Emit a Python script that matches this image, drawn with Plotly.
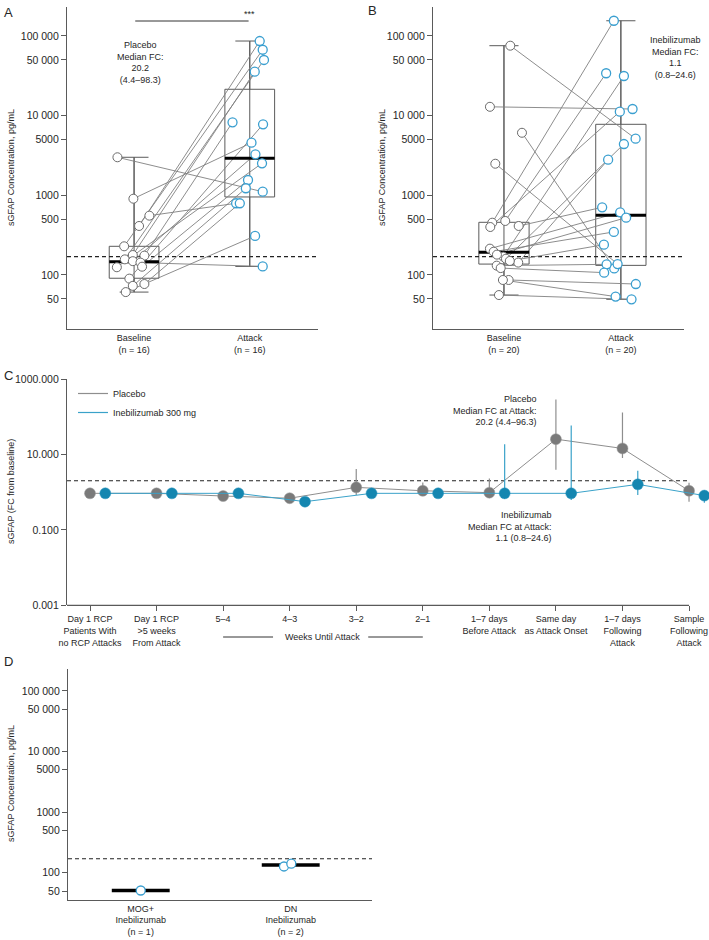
import plotly.graph_objects as go

W, H = 709, 940
FONT = "Liberation Sans, Arial, Helvetica, sans-serif"
TXT = "#262626"
AX = "#5a5a5a"
LINE_GRAY = "#808080"
PT_GRAY_EDGE = "#6b6b6b"
PT_BLUE_EDGE = "#3a9fd0"
C_GRAY = "#7a7a7a"
C_GRAY_LINE = "#8e8e8e"
C_BLUE = "#1486b0"
C_BLUE_LINE = "#3aa2c9"

# ---------------- data: panel A (placebo) ----------------
a_categories = ["Baseline<br>(n = 16)", "Attack<br>(n = 16)"]
a_baseline = [3000, 906, 555, 412, 229, 157, 178, 175, 149, 143, 125, 127, 90, 73, 77, 61]
a_attack = [1109, 4570, 794, 86300, 67100, 49900, 35600, 8240, 3270, 128, 2520, 1556, 7780, 1225, 794, 309]
a_baseline_jitter = [-0.144, -0.006, 0.132, 0.043, -0.086, -0.080, -0.011, 0.089, -0.011, 0.055,
                     -0.149, 0.069, -0.041, -0.011, 0.089, -0.072]
a_attack_jitter = [0.112, 0.015, -0.118, 0.086, 0.112, 0.123, 0.043, -0.149, 0.049, 0.112,
                   0.106, -0.015, 0.115, -0.034, -0.086, 0.046]
a_q1 = [91, 953]
a_median = [147, 2910]
a_q3 = [229, 21400]
a_min = [61, 128]
a_max = [3000, 86300]
a_note = "Placebo<br>Median FC:<br>20.2<br>(4.4–98.3)"

# ---------------- data: panel B (inebilizumab) ----------------
b_categories = ["Baseline<br>(n = 20)", "Attack<br>(n = 20)"]
b_baseline = [75400, 12900, 6090, 2490, 476, 453, 400, 412, 214, 196, 170, 160, 143, 131, 122,
              86.5, 86.5, 56, 180, 150]
b_attack = [5130, 12100, 121, 137, 34000, 155000, 11200, 706, 612, 347, 31400, 4400, 2800, 136,
            107, 77, 53.5, 49.5, 524, 240]
b_baseline_jitter = [0.054, -0.120, 0.154, -0.074, 0.011, -0.100, -0.117, 0.126, -0.120, -0.088,
                     -0.006, 0.017, 0.122, -0.062, -0.028, 0.040, -0.009, -0.043, -0.060, 0.050]
b_attack_jitter = [0.126, 0.100, -0.057, -0.028, -0.126, -0.060, -0.009, -0.160, -0.006, -0.060,
                   0.026, 0.026, -0.109, -0.122, -0.143, 0.128, -0.045, 0.091, 0.045, -0.145]
b_q1 = [137, 132]
b_median = [193, 561]
b_q3 = [458, 7780]
b_min = [56, 49.5]
b_max = [75400, 155000]
b_note = "Inebilizumab<br>Median FC:<br>1.1<br>(0.8–24.6)"

sgfap_cutoff = 170
conc_tickvals = [50, 100, 500, 1000, 5000, 10000, 50000, 100000]
conc_ticktext = ["50", "100", "500", "1000", "5000", "10 000", "50 000", "100 000"]

# ---------------- data: panel C (fold change) ----------------
c_categories = ["Day 1 RCP<br>Patients With<br>no RCP Attacks", "Day 1 RCP<br>>5 weeks<br>From Attack",
                "5–4", "4–3", "3–2", "2–1", "1–7 days<br>Before Attack", "Same day<br>as Attack Onset",
                "1–7 days<br>Following<br>Attack", "Sample<br>Following<br>Attack"]
c_placebo = [0.93, 0.93, 0.79, 0.69, 1.34, 1.09, 0.97, 25.4, 14.4, 1.09]
c_placebo_hi = [1.05, 1.05, 0.90, 0.80, 4.1, 1.8, 2.3, 288, 129, 1.78]
c_placebo_lo = [0.85, 0.85, 0.72, 0.60, 0.84, 0.90, 0.80, 3.9, 8.1, 0.56]
c_ineb = [0.93, 0.93, 0.93, 0.56, 0.93, 0.93, 0.93, 0.93, 1.61, 0.81]
c_ineb_hi = [1.0, 1.0, 1.0, 0.72, 1.1, 1.0, 18.7, 58.4, 3.7, 0.90]
c_ineb_lo = [0.85, 0.85, 0.85, 0.42, 0.80, 0.85, 0.66, 0.62, 0.84, 0.52]
fc_cutoff = 2.0
fc_tickvals = [0.001, 0.1, 10, 1000]
fc_ticktext = ["0.001", "0.100", "10.000", "1000.000"]
c_note_placebo = "Placebo<br>Median FC at Attack:<br>20.2 (4.4–96.3)"
c_note_ineb = "Inebilizumab<br>Median FC at Attack:<br>1.1 (0.8–24.6)"

# ---------------- data: panel D ----------------
d_categories = ["MOG+<br>Inebilizumab<br>(n = 1)", "DN<br>Inebilizumab<br>(n = 2)"]
d_mog = [51]
d_dn = [127, 141]
d_mog_jitter = [0.0]
d_dn_jitter = [-0.045, 0.004]
d_median = [51, 134]


def px(p):
    return p / W


def py(p):
    return 1 - p / H


fig = go.Figure()


def paired_panel(xa, ya, base, base_j, att, att_j, q1, med, q3, lo, hi, xr):
    kw = dict(xaxis=xa, yaxis=ya, showlegend=False, hoverinfo="skip")
    fig.add_trace(go.Scatter(x=list(xr), y=[sgfap_cutoff, sgfap_cutoff], mode="lines",
                             line=dict(color="#222", width=1.1, dash="4px,3px"), **kw))
    wx, wy = [], []
    for i in range(2):
        wx += [i, i, None]
        wy += [lo[i], hi[i], None]
    fig.add_trace(go.Scatter(x=wx, y=wy, mode="lines", line=dict(color=AX, width=1), **kw))
    fig.add_trace(go.Box(x=[0, 1], q1=q1, median=med, q3=q3, lowerfence=lo, upperfence=hi,
                         width=0.43, whiskerwidth=0.58, line=dict(color=AX, width=1),
                         fillcolor="rgba(0,0,0,0)", boxpoints=False, **kw))
    lx, ly = [], []
    for b, bj, a, aj in zip(base, base_j, att, att_j):
        lx += [0 + bj, 1 + aj, None]
        ly += [b, a, None]
    fig.add_trace(go.Scatter(x=lx, y=ly, mode="lines", line=dict(color=LINE_GRAY, width=0.9), **kw))
    mx, my = [], []
    for i in range(2):
        mx += [i - 0.215, i + 0.215, None]
        my += [med[i], med[i], None]
    fig.add_trace(go.Scatter(x=mx, y=my, mode="lines", line=dict(color="#000", width=3), **kw))
    fig.add_trace(go.Scatter(x=[0 + j for j in base_j], y=base, mode="markers",
                             marker=dict(size=9, color="white", line=dict(color=PT_GRAY_EDGE, width=1)),
                             cliponaxis=False, **kw))
    fig.add_trace(go.Scatter(x=[1 + j for j in att_j], y=att, mode="markers",
                             marker=dict(size=9, color="white", line=dict(color=PT_BLUE_EDGE, width=1.3)),
                             cliponaxis=False, **kw))


A_XR = (-0.58, 1.59)
B_XR = (-0.607, 1.54)
paired_panel("x", "y", a_baseline, a_baseline_jitter, a_attack, a_attack_jitter,
             a_q1, a_median, a_q3, a_min, a_max, A_XR)
paired_panel("x2", "y2", b_baseline, b_baseline_jitter, b_attack, b_attack_jitter,
             b_q1, b_median, b_q3, b_min, b_max, B_XR)

# ---------------- panel C ----------------
C_XR = (-0.3456, 9.30)
ckw = dict(xaxis="x3", yaxis="y3", hoverinfo="skip")
fig.add_trace(go.Scatter(x=[C_XR[0], 9.0], y=[fc_cutoff, fc_cutoff], mode="lines",
                         line=dict(color="#222", width=1.1, dash="4px,3px"), showlegend=False, **ckw))
n = len(c_categories)
fig.add_trace(go.Scatter(
    x=[i for i in range(n)], y=c_placebo, mode="lines+markers",
    line=dict(color=C_GRAY_LINE, width=1),
    marker=dict(size=11, color=C_GRAY, line=dict(color="#9a9a9a", width=0.5)),
    error_y=dict(type="data", symmetric=False,
                 array=[h - v for h, v in zip(c_placebo_hi, c_placebo)],
                 arrayminus=[v - l for l, v in zip(c_placebo_lo, c_placebo)],
                 color=C_GRAY_LINE, thickness=1.2, width=0),
    cliponaxis=False, showlegend=False, **ckw))
fig.add_trace(go.Scatter(
    x=[i + 0.23 for i in range(n)], y=c_ineb, mode="lines+markers",
    line=dict(color=C_BLUE_LINE, width=1),
    marker=dict(size=11, color=C_BLUE, line=dict(color="#2a95bd", width=0.5)),
    error_y=dict(type="data", symmetric=False,
                 array=[h - v for h, v in zip(c_ineb_hi, c_ineb)],
                 arrayminus=[v - l for l, v in zip(c_ineb_lo, c_ineb)],
                 color=C_BLUE_LINE, thickness=1.2, width=0),
    cliponaxis=False, showlegend=False, **ckw))
fig.add_trace(go.Scatter(x=[None], y=[None], mode="lines", name="Placebo",
                         line=dict(color=C_GRAY_LINE, width=1.2), **ckw))
fig.add_trace(go.Scatter(x=[None], y=[None], mode="lines", name="Inebilizumab 300 mg",
                         line=dict(color=C_BLUE_LINE, width=1.2), **ckw))

# ---------------- panel D ----------------
D_XR = (-0.485, 1.542)
dkw = dict(xaxis="x4", yaxis="y4", showlegend=False, hoverinfo="skip")
fig.add_trace(go.Scatter(x=list(D_XR), y=[sgfap_cutoff, sgfap_cutoff], mode="lines",
                         line=dict(color="#222", width=1.1, dash="4px,3px"), **dkw))
mx, my = [], []
for i, m in enumerate(d_median):
    mx += [i - 0.193, i + 0.193, None]
    my += [m, m, None]
fig.add_trace(go.Scatter(x=mx, y=my, mode="lines", line=dict(color="#000", width=3.5), **dkw))
fig.add_trace(go.Scatter(x=[0 + j for j in d_mog_jitter] + [1 + j for j in d_dn_jitter],
                         y=d_mog + d_dn, mode="markers",
                         marker=dict(size=9, color="white", line=dict(color=PT_BLUE_EDGE, width=1.3)),
                         cliponaxis=False, **dkw))

TICKSIZE = 10.5


def yconc(domain, rng, anchor):
    return dict(domain=domain, type="log", range=rng, tickvals=conc_tickvals, ticktext=conc_ticktext,
                ticks="outside", ticklen=5, tickwidth=1, tickcolor=AX, showline=True, linecolor=AX,
                linewidth=1.2, showgrid=False, zeroline=False, anchor=anchor,
                tickfont=dict(size=TICKSIZE, color=TXT), automargin=False, fixedrange=True)


def xcat(domain, rng, labels, anchor):
    return dict(domain=domain, range=list(rng), tickvals=list(range(len(labels))), ticktext=labels,
                ticks="", showline=True, linecolor=AX, linewidth=1.2, showgrid=False, zeroline=False,
                anchor=anchor, tickfont=dict(size=9, color=TXT), automargin=False, fixedrange=True)


fig.update_layout(
    width=W, height=H, margin=dict(l=0, r=0, t=0, b=0),
    paper_bgcolor="white", plot_bgcolor="white",
    font=dict(family=FONT, size=9, color=TXT),
    xaxis=xcat([px(67), px(318)], A_XR, a_categories, "y"),
    yaxis=yconc([py(329), py(7)], [1.322, 5.363], "x"),
    xaxis2=xcat([px(433), px(684)], B_XR, b_categories, "y2"),
    yaxis2=yconc([py(329), py(7)], [1.322, 5.363], "x2"),
    xaxis3=dict(domain=[px(67), px(709)], range=list(C_XR), tickvals=list(range(len(c_categories))),
                ticktext=c_categories, ticks="outside", ticklen=5, tickcolor=AX, showline=False,
                showgrid=False, zeroline=False, anchor="y3", tickfont=dict(size=9, color=TXT),
                automargin=False, fixedrange=True),
    yaxis3=dict(domain=[py(605.3), py(379)], type="log", range=[-3, 3], tickvals=fc_tickvals,
                ticktext=fc_ticktext, ticks="outside", ticklen=5, tickcolor=AX, showline=True,
                linecolor=AX, linewidth=1.2, showgrid=False, zeroline=False, anchor="x3",
                tickfont=dict(size=TICKSIZE, color=TXT), automargin=False, fixedrange=True),
    xaxis4=xcat([px(68), px(372)], D_XR, d_categories, "y4"),
    yaxis4=yconc([py(899.7), py(669)], [1.556, 5.36], "x4"),
    showlegend=True,
    legend=dict(x=px(73), y=py(379), xanchor="left", yanchor="top", bgcolor="rgba(0,0,0,0)",
                font=dict(size=9, color=TXT), tracegroupgap=0),
)

shapes = [
    dict(type="line", xref="x3", yref="y3 domain", x0=C_XR[0], x1=9.0, y0=0, y1=0,
         line=dict(color=AX, width=1.2)),
    dict(type="line", xref="x", yref="y domain", x0=0.01, x1=0.99, y0=(329 - 21) / 322, y1=(329 - 21) / 322,
         line=dict(color="#333", width=1)),
    dict(type="line", xref="x3", yref="paper", x0=2.0, x1=2.75, y0=py(637), y1=py(637),
         line=dict(color="#333", width=1)),
    dict(type="line", xref="x3", yref="paper", x0=4.18, x1=5.0, y0=py(637), y1=py(637),
         line=dict(color="#333", width=1)),
]

ann = []


def text(x, y, s, xref="paper", yref="paper", size=9, xanchor="center", yanchor="middle", align="center",
         angle=0):
    ann.append(dict(x=x, y=y, xref=xref, yref=yref, text=s, showarrow=False, xanchor=xanchor,
                    yanchor=yanchor, align=align, textangle=angle, font=dict(size=size, color=TXT)))


text(px(2), py(3), "A", size=13, xanchor="left", yanchor="top")
text(px(366), py(1), "B", size=13, xanchor="left", yanchor="top")
text(px(2), py(366), "C", size=13, xanchor="left", yanchor="top")
text(px(2), py(652), "D", size=13, xanchor="left", yanchor="top")
text(1.0, (329 - 14) / 322, "***", xref="x", yref="y domain", size=9)
text(px(140), py(62), a_note)
text(px(675), py(57), b_note)
text(px(539), py(410), c_note_placebo, xanchor="right", align="right")
text(px(554), py(526), c_note_ineb, xanchor="right", align="right")
text(3.5, py(637), "Weeks Until Attack", xref="x3", size=9)
text(px(11), py(168), "sGFAP Concentration, pg/mL", angle=-90)
text(px(382), py(168), "sGFAP Concentration, pg/mL", angle=-90)
text(px(11), py(492), "sGFAP (FC from baseline)", angle=-90)
text(px(11), py(784), "sGFAP Concentration, pg/mL", angle=-90)

fig.update_layout(shapes=shapes, annotations=ann)
fig.write_html("out.html", config={"displayModeBar": False},
               post_script="document.body.style.margin='0px';")
